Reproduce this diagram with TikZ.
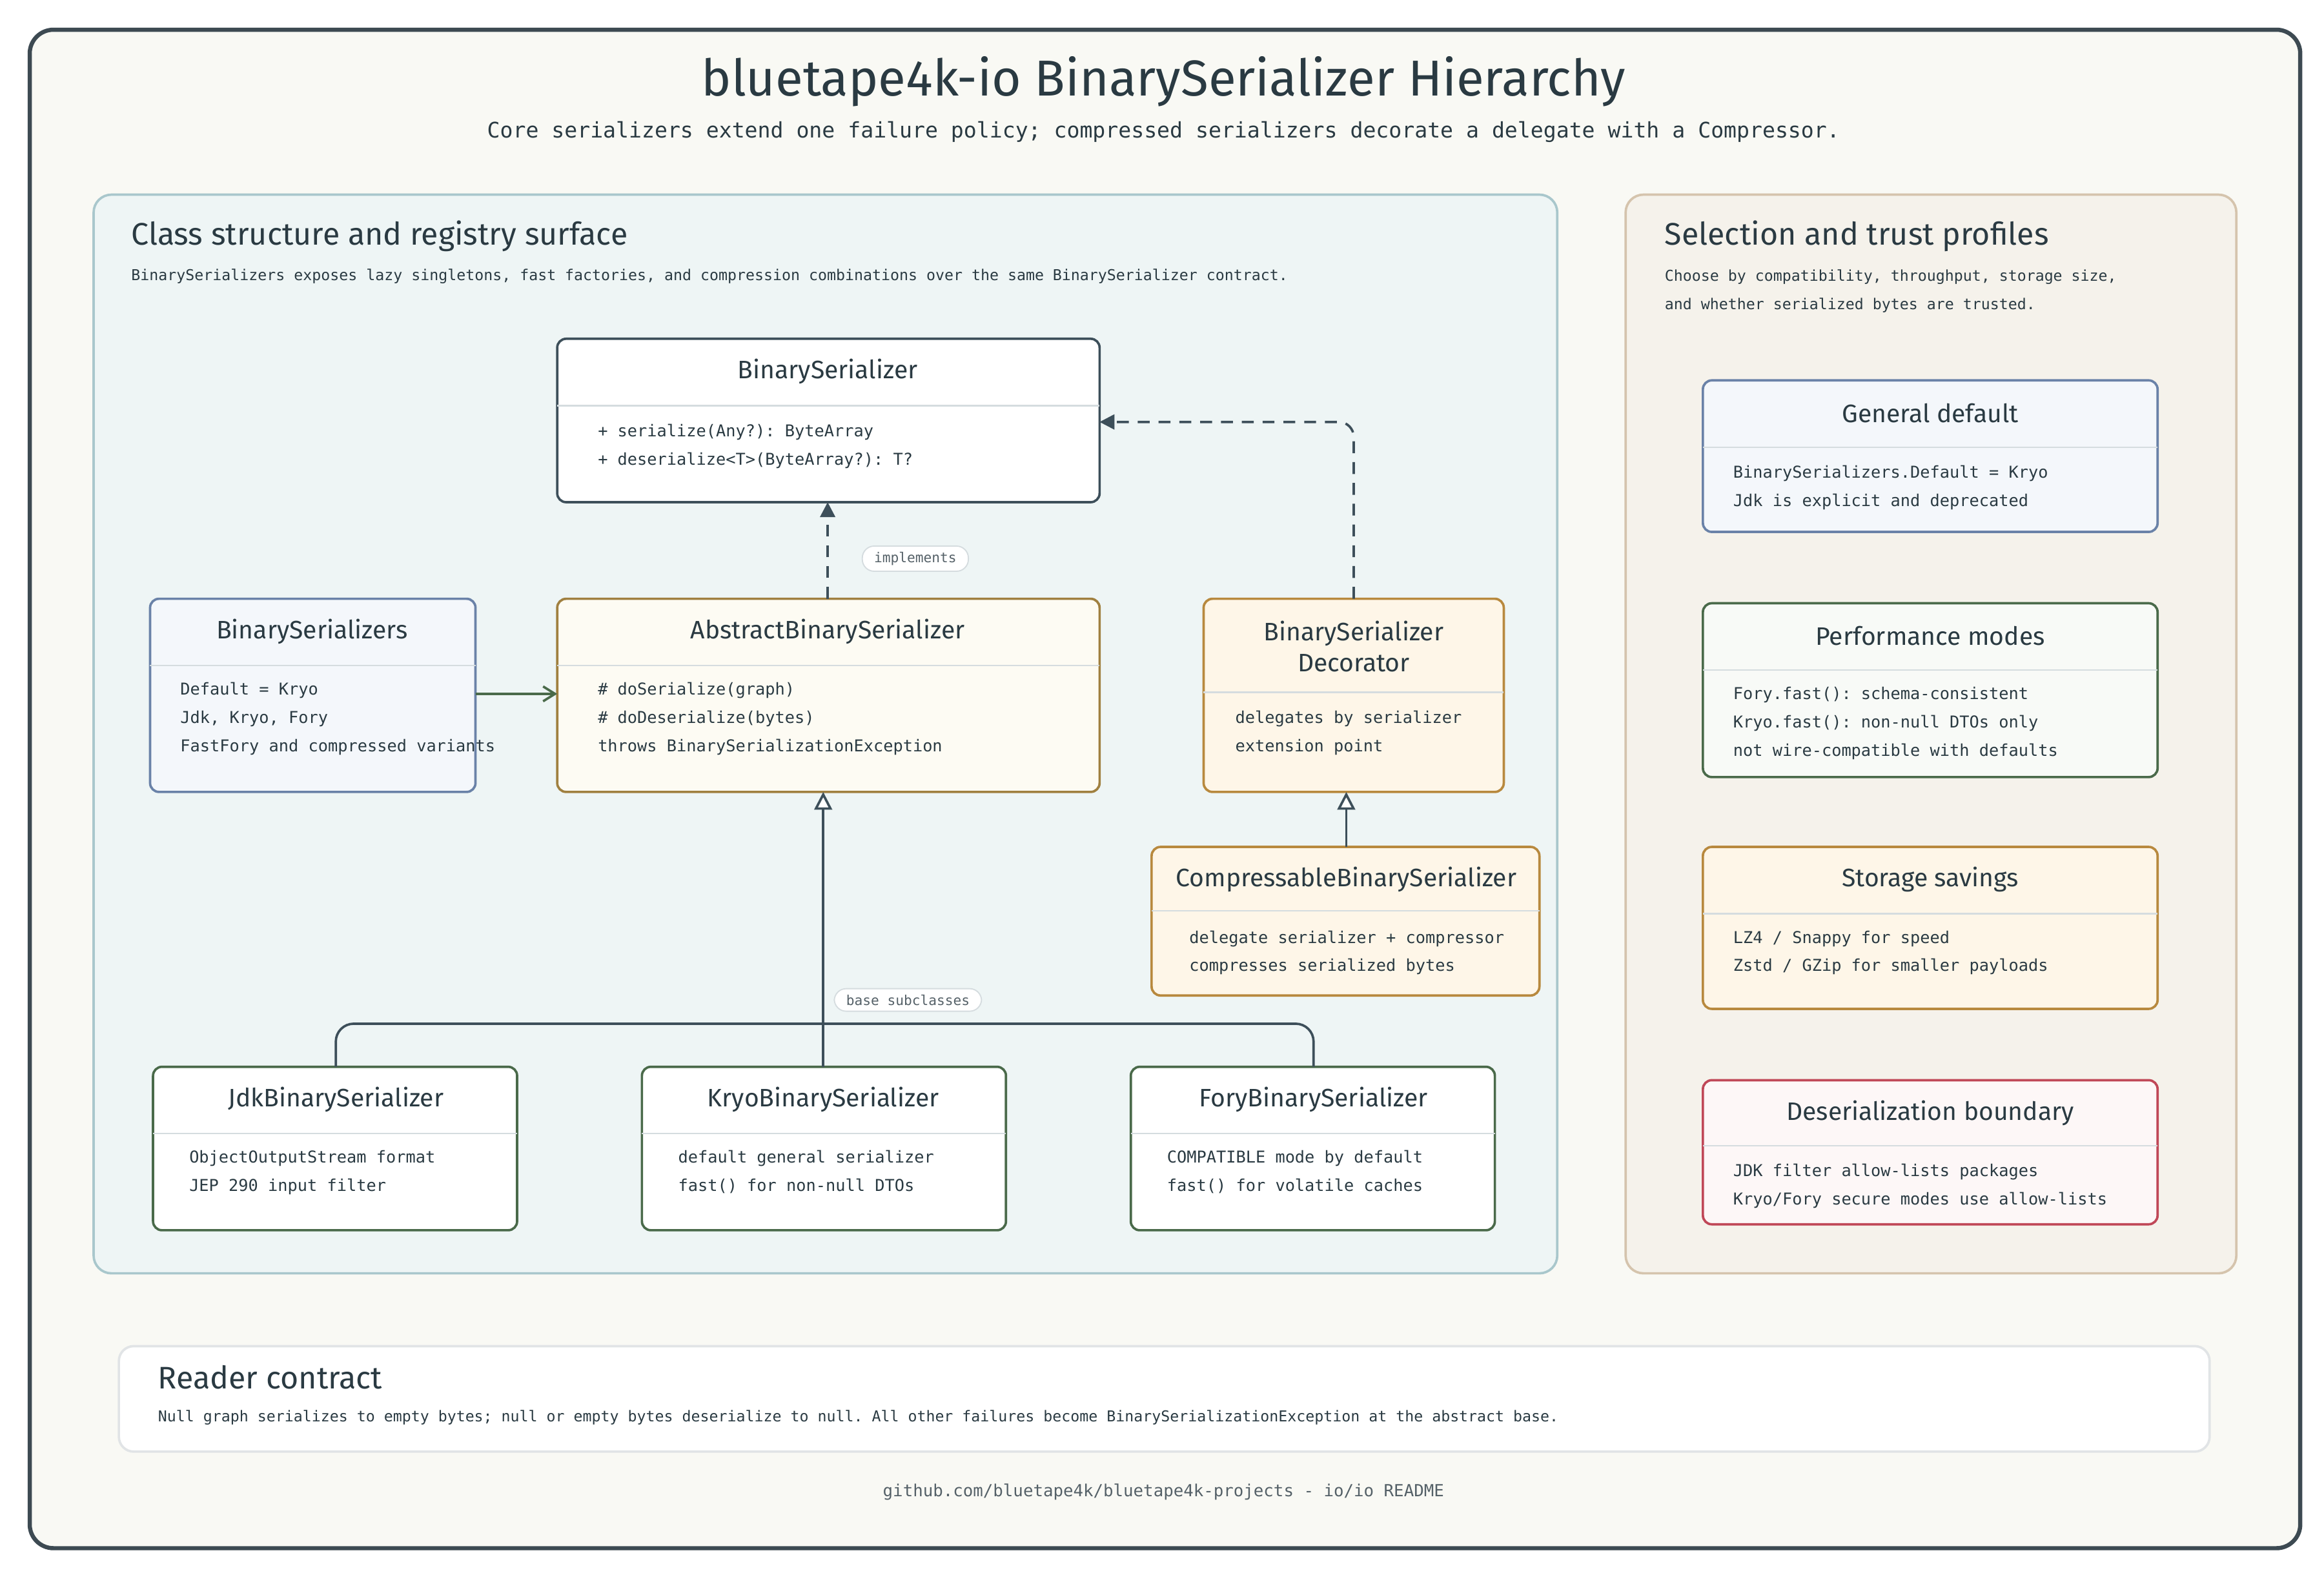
\documentclass[tikz,border=0pt]{standalone}
\usepackage{fontspec}
\setmainfont{Fira Sans}
\setmonofont{DejaVu Sans Mono}
\usetikzlibrary{fit,arrows.meta,positioning}
\definecolor{ink}{HTML}{2A3A42}
\definecolor{frame}{HTML}{3D4A52}
\definecolor{bgc}{HTML}{F9F9F4}
\definecolor{lpf}{HTML}{EEF5F5}\definecolor{lps}{HTML}{A9C7CC}
\definecolor{rpf}{HTML}{F5F2EB}\definecolor{rps}{HTML}{D5C4AD}
\definecolor{bls}{HTML}{6A82A8}\definecolor{blf}{HTML}{F4F7FB}
\definecolor{gos}{HTML}{A08040}\definecolor{gof}{HTML}{FDFBF3}
\definecolor{ors}{HTML}{B8893E}\definecolor{orf}{HTML}{FEF6E8}
\definecolor{grs}{HTML}{4A6A4A}\definecolor{grf}{HTML}{F8FAF7}
\definecolor{res}{HTML}{C04858}\definecolor{ref}{HTML}{FDF7F7}
\definecolor{sls}{HTML}{3D4F5A}
\definecolor{divc}{HTML}{D5DCDF}
\tikzset{
  card/.style={rounded corners=3pt,line width=0.8pt,inner sep=0pt},
  cname/.style={font=\fontsize{8.5}{10}\selectfont,text=ink,anchor=center,align=center},
  body/.style={font=\ttfamily\fontsize{5.5}{9.5}\selectfont,text=ink,anchor=north west,align=left,inner sep=0pt},
  pill/.style={font=\ttfamily\fontsize{4.6}{5}\selectfont,text=ink!80,draw=divc,fill=white,rounded corners=4pt,inner xsep=4pt,inner ysep=2pt},
  conn/.style={line width=0.8pt,draw=sls},
}
\newcommand{\mycard}[7]{% name x1 y1 x2 y2 divider style
  \node[card,#7,fit={(#2,#3)(#4,#5)}] (#1) {};
  \draw[divc,line width=0.5pt] (#2,#6) -- (#4,#6);
}
\begin{document}
\begin{tikzpicture}[x=0.5pt,y=-0.5pt]
\useasboundingbox (0,0) rectangle (1564,1060);
\node[fit={(20,20)(1548,1042)},inner sep=0,draw=frame,fill=bgc,line width=1.4pt,rounded corners=8pt] (outer) {};
\node[font=\fontsize{17}{20}\selectfont,text=ink] (title) at (783,55) {bluetape4k-io BinarySerializer Hierarchy};
\node[font=\ttfamily\fontsize{7.2}{9}\selectfont,text=ink] (sub) at (783,89) {Core serializers extend one failure policy; compressed serializers decorate a delegate with a Compressor.};
% panels
\node[fit={(63,131)(1048,857)},inner sep=0,draw=lps,fill=lpf,line width=0.8pt,rounded corners=6pt] (lp) {};
\node[font=\fontsize{10.5}{12}\selectfont,text=ink,anchor=west,inner sep=0] (lph) at (88,159) {Class structure and registry surface};
\node[font=\ttfamily\fontsize{5.05}{6}\selectfont,text=ink,anchor=west,inner sep=0] (lpd) at (88,186) {BinarySerializers exposes lazy singletons, fast factories, and compression combinations over the same BinarySerializer contract.};
\node[fit={(1094,131)(1505,857)},inner sep=0,draw=rps,fill=rpf,line width=0.8pt,rounded corners=6pt] (rp) {};
\node[font=\fontsize{10.5}{12}\selectfont,text=ink,anchor=west,inner sep=0] (rph) at (1120,159) {Selection and trust profiles};
\node[font=\ttfamily\fontsize{5.05}{9.5}\selectfont,text=ink,anchor=north west,align=left,inner sep=0] (rpd) at (1120,181) {Choose by compatibility, throughput, storage size,\\and whether serialized bytes are trusted.};
% class cards
\mycard{bs}{375}{228}{740}{338}{273}{draw=sls,fill=white}
\node[cname] at (557,250) {BinarySerializer};
\node[body] at (402,285) {+ serialize(Any?): ByteArray\\+ deserialize<T>(ByteArray?): T?};
\mycard{abs}{375}{403}{740}{533}{448}{draw=gos,fill=gof}
\node[cname] at (557,425) {AbstractBinarySerializer};
\node[body] at (402,459) {\# doSerialize(graph)\\\# doDeserialize(bytes)\\throws BinarySerializationException};
\mycard{bss}{101}{403}{320}{533}{448}{draw=bls,fill=blf}
\node[cname] at (210,425) {BinarySerializers};
\node[body] at (121,459) {Default = Kryo\\Jdk, Kryo, Fory\\FastFory and compressed variants};
\mycard{dec}{810}{403}{1012}{533}{466}{draw=ors,fill=orf}
\node[cname,font=\fontsize{8.5}{10.5}\selectfont] at (911,435) {BinarySerializer\\Decorator};
\node[body] at (831,478) {delegates by serializer\\extension point};
\mycard{cmp}{775}{570}{1036}{670}{613}{draw=ors,fill=orf}
\node[cname] at (906,592) {CompressableBinarySerializer};
\node[body] at (800,626) {delegate serializer + compressor\\compresses serialized bytes};
\mycard{jdk}{103}{718}{348}{828}{763}{draw=grs,fill=white}
\node[cname] at (226,740) {JdkBinarySerializer};
\node[body] at (127,774) {ObjectOutputStream format\\JEP 290 input filter};
\mycard{kry}{432}{718}{677}{828}{763}{draw=grs,fill=white}
\node[cname] at (554,740) {KryoBinarySerializer};
\node[body] at (456,774) {default general serializer\\fast() for non-null DTOs};
\mycard{fory}{761}{718}{1006}{828}{763}{draw=grs,fill=white}
\node[cname] at (884,740) {ForyBinarySerializer};
\node[body] at (785,774) {COMPATIBLE mode by default\\fast() for volatile caches};
% right cards
\mycard{gd}{1146}{256}{1452}{358}{301}{draw=bls,fill=blf}
\node[cname] at (1299,278) {General default};
\node[body] at (1166,313) {BinarySerializers.Default = Kryo\\Jdk is explicit and deprecated};
\mycard{pm}{1146}{406}{1452}{523}{451}{draw=grs,fill=grf}
\node[cname] at (1299,428) {Performance modes};
\node[body] at (1166,462) {Fory.fast(): schema-consistent\\Kryo.fast(): non-null DTOs only\\not wire-compatible with defaults};
\mycard{ss}{1146}{570}{1452}{679}{615}{draw=ors,fill=orf}
\node[cname] at (1299,592) {Storage savings};
\node[body] at (1166,626) {LZ4 / Snappy for speed\\Zstd / GZip for smaller payloads};
\mycard{db}{1146}{727}{1452}{824}{771}{draw=res,fill=ref}
\node[cname] at (1299,749) {Deserialization boundary};
\node[body] at (1166,783) {JDK filter allow-lists packages\\Kryo/Fory secure modes use allow-lists};
% reader contract
\node[fit={(80,906)(1487,977)},inner sep=0,draw=divc!80!ink!40,fill=white,line width=0.8pt,rounded corners=5pt] (rc) {};
\node[font=\fontsize{10.5}{12}\selectfont,text=ink,anchor=west,inner sep=0] at (106,927) {Reader contract};
\node[font=\ttfamily\fontsize{5.05}{6}\selectfont,text=ink,anchor=west,inner sep=0] at (106,954) {Null graph serializes to empty bytes; null or empty bytes deserialize to null. All other failures become BinarySerializationException at the abstract base.};
\node[font=\ttfamily\fontsize{5.6}{7}\selectfont,text=ink!80] (foot) at (783,1004) {github.com/bluetape4k/bluetape4k-projects - io/io README};
% connectors
\coordinate (a1) at (557,403); \coordinate (a2) at (557,338);
\draw[conn,dashed,dash pattern=on 4pt off 3pt,-{Triangle[length=5pt,width=5pt]}] (a1) -- (a2);
\node[pill] at (616,376) {implements};
\coordinate (d1) at (911,403); \coordinate (d2) at (740,284);
\draw[conn,dashed,dash pattern=on 4pt off 3pt,rounded corners=5pt,-{Triangle[length=5pt,width=5pt]}] (d1) |- (d2);
\draw[line width=0.8pt,draw=grs,-{Straight Barb[length=4pt,width=5pt]}] (320,467) -- (375,467);
\draw[conn,-{Triangle[open,length=6pt,width=6pt,fill=white]}] (906,570) -- (906,533);
\draw[conn,-{Triangle[open,length=6pt,width=6pt,fill=white]}] (554,718) -- (554,533);
\draw[conn,rounded corners=6pt] (226,718) -- (226,689) -- (884,689) -- (884,718);
\node[pill] at (611,673) {base subclasses};
\end{tikzpicture}
\end{document}
